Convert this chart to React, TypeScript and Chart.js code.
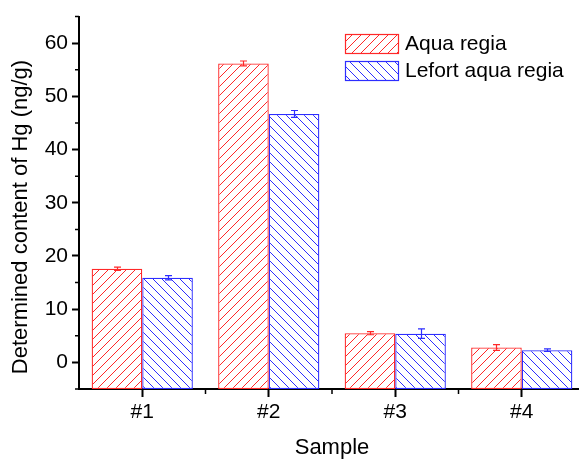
import React, { useEffect, useRef } from 'react';
import { Chart, registerables } from 'chart.js';

Chart.register(...registerables);

const categories = ['#1', '#2', '#3', '#4'];
const seriesNames = ['Aqua regia', 'Lefort aqua regia'];
const aquaRegia = [17.6, 56.2, 5.5, 2.8];
const aquaRegiaErr = [0.3, 0.45, 0.3, 0.55];
const lefortAquaRegia = [15.9, 46.7, 5.4, 2.3];
const lefortAquaRegiaErr = [0.4, 0.65, 0.9, 0.25];
const yMajorTicks = [0, 10, 20, 30, 40, 50, 60];
const yMinorTicks = [-5, 5, 15, 25, 35, 45, 55, 65];
const yMin = -5;
const yMax = 65;
const xTitle = 'Sample';
const yTitle = 'Determined content of Hg (ng/g)';

const RED = 'rgb(255,40,40)';
const BLUE = 'rgb(45,45,255)';
const FONT = "'Liberation Sans', Arial, sans-serif";

function makeHatch(ctx: CanvasRenderingContext2D, color: string, dir: string) {
  const s = 9;
  const c = document.createElement('canvas');
  c.width = s;
  c.height = s;
  const g = c.getContext('2d')!;
  g.fillStyle = '#ffffff';
  g.fillRect(0, 0, s, s);
  g.strokeStyle = color;
  g.lineWidth = 1;
  g.beginPath();
  if (dir === '/') {
    g.moveTo(-1, s + 1);
    g.lineTo(s + 1, -1);
    g.moveTo(-1, 1);
    g.lineTo(1, -1);
    g.moveTo(s - 1, s + 1);
    g.lineTo(s + 1, s - 1);
  } else {
    g.moveTo(-1, -1);
    g.lineTo(s + 1, s + 1);
    g.moveTo(s - 1, -1);
    g.lineTo(s + 1, 1);
    g.moveTo(-1, s - 1);
    g.lineTo(1, s + 1);
  }
  g.stroke();
  return ctx.createPattern(c, 'repeat')!;
}

export default function App() {
  const ref = useRef<HTMLCanvasElement>(null);

  useEffect(() => {
    const canvas = ref.current!;
    const ctx = canvas.getContext('2d')!;
    const redPat = makeHatch(ctx, RED, '/');
    const bluePat = makeHatch(ctx, BLUE, '\\');
    const values = [aquaRegia, lefortAquaRegia];
    const errors = [aquaRegiaErr, lefortAquaRegiaErr];
    const colors = [RED, BLUE];
    const patterns = [redPat, bluePat];

    const extras = {
      id: 'extras',
      afterDatasetsDraw(chart: any) {
        const c = chart.ctx;
        const y = chart.scales.y;
        c.save();
        values.forEach((vals, di) => {
          const meta = chart.getDatasetMeta(di);
          meta.data.forEach((bar: any, i: number) => {
            const v = vals[i];
            const e = errors[di][i];
            const x = Math.round(bar.x) + 0.5;
            const yt = y.getPixelForValue(v + e);
            const yb = y.getPixelForValue(v - e);
            c.strokeStyle = colors[di];
            c.lineWidth = 1.2;
            c.beginPath();
            c.moveTo(x, yt);
            c.lineTo(x, yb);
            c.moveTo(x - 3.5, yt);
            c.lineTo(x + 3.5, yt);
            c.moveTo(x - 3.5, yb);
            c.lineTo(x + 3.5, yb);
            c.stroke();
          });
        });
        c.restore();
      },
      afterDraw(chart: any) {
        const c = chart.ctx;
        const y = chart.scales.y;
        const x = chart.scales.x;
        const area = chart.chartArea;
        c.save();
        // minor ticks
        c.strokeStyle = '#000';
        c.lineWidth = 1.5;
        c.beginPath();
        yMinorTicks.forEach((t) => {
          const py = y.getPixelForValue(t);
          c.moveTo(area.left, py);
          c.lineTo(area.left - 4, py);
        });
        for (let i = 0; i <= categories.length; i++) {
          const px = x.getPixelForValue(i - 0.5);
          if (i === 0) continue;
          c.moveTo(px, area.bottom);
          c.lineTo(px, area.bottom + 5);
        }
        c.stroke();
        // axis titles
        c.fillStyle = '#000';
        c.font = `22px ${FONT}`;
        c.textAlign = 'center';
        c.textBaseline = 'middle';
        c.fillText(xTitle, (area.left + area.right) / 2, 448);
        c.save();
        c.translate(21, 217);
        c.rotate(-Math.PI / 2);
        c.fillText(yTitle, 0, 0);
        c.restore();
        // legend
        c.font = `21px ${FONT}`;
        c.textAlign = 'left';
        seriesNames.forEach((name, i) => {
          const bx = 345;
          const by = 34 + i * 27;
          c.fillStyle = patterns[i];
          c.fillRect(bx, by, 53, 19);
          c.strokeStyle = colors[i];
          c.lineWidth = 1.2;
          c.strokeRect(bx + 0.5, by + 0.5, 53, 19);
          c.fillStyle = '#000';
          c.fillText(name, 405, by + 10);
        });
        c.restore();
      },
    };

    const chart = new Chart(canvas, {
      type: 'bar',
      data: {
        labels: categories,
        datasets: values.map((vals, i) => ({
          label: seriesNames[i],
          data: vals,
          base: yMin,
          backgroundColor: patterns[i],
          borderColor: colors[i],
          borderWidth: 1.3,
          borderSkipped: false,
          categoryPercentage: 0.8,
          barPercentage: 1.0,
        })),
      },
      options: {
        responsive: false,
        animation: false,
        layout: { padding: { top: 14, right: 5, left: 0, bottom: 0 } },
        plugins: {
          legend: { display: false },
          tooltip: { enabled: false },
        },
        scales: {
          x: {
            type: 'category',
            offset: true,
            afterFit(scale: any) {
              scale.height = 70;
            },
            grid: {
              offset: false,
              drawOnChartArea: false,
              tickLength: 8,
              tickWidth: 2,
              tickColor: '#000',
            },
            border: { display: true, color: '#000', width: 2 },
            ticks: {
              color: '#000',
              font: { family: FONT, size: 21 },
              padding: 3,
            },
          },
          y: {
            type: 'linear',
            min: yMin,
            max: yMax,
            afterFit(scale: any) {
              scale.width = 79;
            },
            afterBuildTicks(scale: any) {
              scale.ticks = yMajorTicks.map((v) => ({ value: v }));
            },
            grid: {
              drawOnChartArea: false,
              tickLength: 7,
              tickWidth: 2,
              tickColor: '#000',
            },
            border: { display: true, color: '#000', width: 2 },
            ticks: {
              color: '#000',
              font: { family: FONT, size: 21 },
              padding: 4,
            },
          },
        },
      },
      plugins: [extras],
    } as any);

    return () => chart.destroy();
  }, []);

  return (
    <div
      style={{
        position: 'absolute',
        left: 0,
        top: 0,
        width: 579,
        height: 459,
        overflow: 'hidden',
        background: '#fff',
      }}
    >
      <canvas ref={ref} width={590} height={459} style={{ width: 590, height: 459, display: 'block' }} />
    </div>
  );
}
